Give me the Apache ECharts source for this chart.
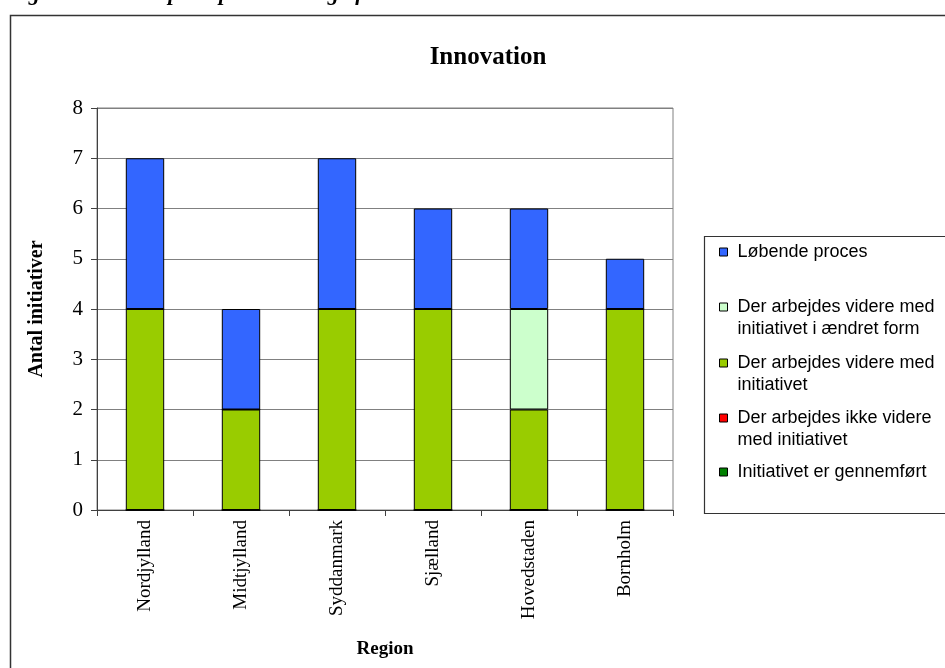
<!DOCTYPE html>
<html>
<head>
<meta charset="utf-8">
<script src="https://cdn.jsdelivr.net/npm/echarts@6/dist/echarts.min.js"></script>
<style>
html,body{margin:0;padding:0;background:#fff;}
#chart{width:945px;height:668px;}
</style>
</head>
<body>
<div id="chart"></div>
<script>
const categories = ['Nordjylland', 'Midtjylland', 'Syddanmark', 'Sjælland', 'Hovedstaden', 'Bornholm'];
const yTicks = [0, 1, 2, 3, 4, 5, 6, 7, 8];

const nameGennemfoert = 'Initiativet er gennemført';
const nameIkkeVidere = 'Der arbejdes ikke videre med initiativet';
const nameVidere = 'Der arbejdes videre med initiativet';
const nameAendret = 'Der arbejdes videre med initiativet i ændret form';
const nameLoebende = 'Løbende proces';

const gennemfoert = [0, 0, 0, 0, 0, 0];
const ikkeVidere = [0, 0, 0, 0, 0, 0];
const videre = [4, 2, 4, 4, 2, 4];
const aendret = [0, 0, 0, 0, 2, 0];
const loebende = [3, 2, 3, 2, 2, 1];

const titleText = 'Innovation';
const captionText = 'Figur 4.2: Status på implementering af initiativer';
const yAxisName = 'Antal initiativer';
const xAxisName = 'Region';

// legend labels as shown (line breaks)
const legendLabels = {};
legendLabels[nameLoebende] = 'Løbende proces';
legendLabels[nameAendret] = '\nDer arbejdes videre med\ninitiativet i ændret form';
legendLabels[nameVidere] = '\nDer arbejdes videre med\ninitiativet';
legendLabels[nameIkkeVidere] = '\nDer arbejdes ikke videre\nmed initiativet';
legendLabels[nameGennemfoert] = 'Initiativet er gennemført';

const colors = {};
colors[nameGennemfoert] = '#008000';
colors[nameIkkeVidere] = '#FF0000';
colors[nameVidere] = '#99CC00';
colors[nameAendret] = '#CCFFCC';
colors[nameLoebende] = '#3366FF';

const serif = 'Liberation Serif, Times New Roman, serif';
const sans = 'Liberation Sans, Arial, sans-serif';

const chart = echarts.init(document.getElementById('chart'), null, {renderer: 'canvas'});

function mkSeries(name, data) {
  return {
    name: name,
    type: 'bar',
    stack: 'total',
    barWidth: '40%',
    data: data,
    itemStyle: {color: colors[name], borderColor: '#000', borderWidth: 1},
    emphasis: {disabled: true},
    animation: false
  };
}

const legendTops = [
  [nameLoebende, 241],
  [nameAendret, 274],
  [nameVidere, 330],
  [nameIkkeVidere, 385],
  [nameGennemfoert, 461]
];

const legends = legendTops.map(function (lt) {
  return {
    data: [lt[0]],
    left: 719,
    top: lt[1],
    orient: 'vertical',
    padding: 0,
    icon: 'rect',
    itemWidth: 8,
    itemHeight: 8,
    selectedMode: false,
    itemStyle: {borderColor: '#000', borderWidth: 1},
    formatter: function (n) { return legendLabels[n]; },
    textStyle: {fontFamily: sans, fontSize: 18, color: '#000', lineHeight: 22, padding: [0, 0, 0, 5]}
  };
});

const option = {
  backgroundColor: '#fff',
  animation: false,
  title: {
    text: titleText,
    left: 483,
    top: 40,
    textAlign: 'center',
    textStyle: {fontFamily: serif, fontSize: 25, fontWeight: 'bold', color: '#000'}
  },
  legend: legends,
  grid: {
    left: 97, right: 272, top: 108, bottom: 158,
    show: true, borderColor: '#808080', borderWidth: 1
  },
  xAxis: {
    type: 'category',
    data: categories,
    name: xAxisName,
    nameLocation: 'middle',
    nameGap: 130,
    nameTextStyle: {fontFamily: serif, fontSize: 19, fontWeight: 'bold', color: '#000'},
    axisLine: {lineStyle: {color: '#404040', width: 1}},
    axisTick: {show: true, length: 6, lineStyle: {color: '#404040'}},
    axisLabel: {rotate: 90, margin: 10, fontFamily: serif, fontSize: 19, color: '#000'}
  },
  yAxis: {
    type: 'value',
    min: yTicks[0],
    max: yTicks[yTicks.length - 1],
    interval: 1,
    name: yAxisName,
    nameLocation: 'middle',
    nameGap: 50,
    nameTextStyle: {fontFamily: serif, fontSize: 20, fontWeight: 'bold', color: '#000'},
    axisLine: {show: true, lineStyle: {color: '#404040', width: 1}},
    axisTick: {show: true, length: 6, lineStyle: {color: '#404040'}},
    axisLabel: {margin: 14, fontFamily: serif, fontSize: 21, color: '#000'},
    splitLine: {show: true, lineStyle: {color: '#808080', width: 1}}
  },
  graphic: [
    {type: 'rect', shape: {x: 10.5, y: 15.5, width: 1000, height: 700}, style: {fill: null, stroke: '#333', lineWidth: 1.5}, silent: true, z: -1},
    {type: 'rect', shape: {x: 704.5, y: 236.5, width: 300, height: 277}, style: {fill: null, stroke: '#333', lineWidth: 1.2}, silent: true},
    {type: 'text', x: 8, y: 5, style: {text: captionText, font: 'italic bold 22px ' + serif, fill: '#000', verticalAlign: 'bottom'}, silent: true}
  ],
  series: [
    mkSeries(nameGennemfoert, gennemfoert),
    mkSeries(nameIkkeVidere, ikkeVidere),
    mkSeries(nameVidere, videre),
    mkSeries(nameAendret, aendret),
    mkSeries(nameLoebende, loebende)
  ]
};

chart.setOption(option);
</script>
</body>
</html>
